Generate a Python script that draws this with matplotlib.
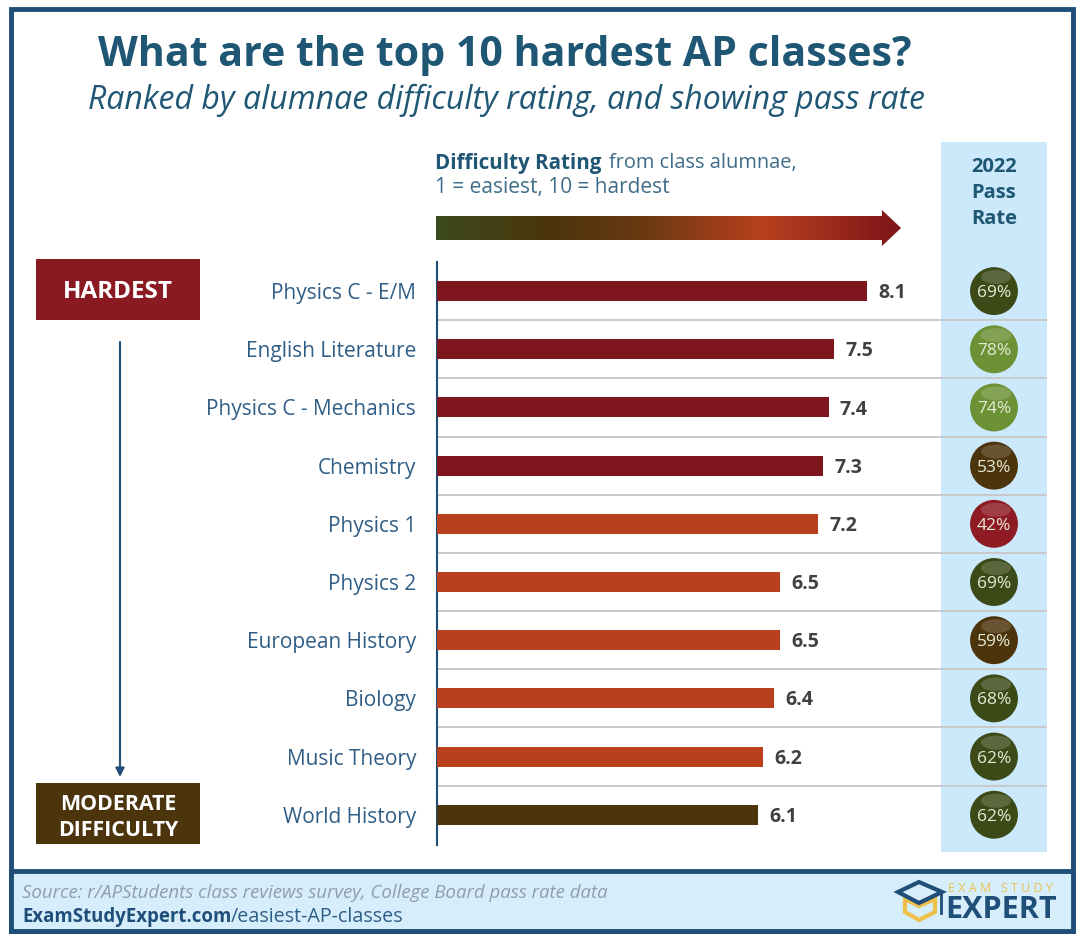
import matplotlib
matplotlib.use("Agg")
import matplotlib.pyplot as plt
from matplotlib.colors import LinearSegmentedColormap
from matplotlib.patches import Rectangle, Polygon, Ellipse
import numpy as np

plt.rcParams['font.family'] = ['Open Sans', 'DejaVu Sans']

# Chart data
classes = ["Physics C - E/M", "English Literature", "Physics C - Mechanics", "Chemistry", "Physics 1",
           "Physics 2", "European History", "Biology", "Music Theory", "World History"]
ratings = [8.1, 7.5, 7.4, 7.3, 7.2, 6.5, 6.5, 6.4, 6.2, 6.1]
pass_rates = [69, 78, 74, 53, 42, 69, 59, 68, 62, 62]

# Colours
navy = "#1f4e79"
blue_text = "#2f5d86"
teal = "#1f5673"
dark_red = "#7f161d"
orange = "#b93f1d"
brown = "#4c340d"
bar_colors = [dark_red] * 4 + [orange] * 5 + [brown]
rate_colors = ["#3c4a18", "#6d9135", "#6d9135", "#4c340d", "#8e1a24",
               "#3c4a18", "#4c340d", "#3c4a18", "#3c4a18", "#3c4a18"]

W, H = 1080, 942
fig = plt.figure(figsize=(W / 100, H / 100), dpi=100, facecolor="white")

# Background layer in pixel coordinates
bg = fig.add_axes([0, 0, 1, 1], zorder=0)
bg.set_xlim(0, W)
bg.set_ylim(H, 0)
bg.axis("off")

# Frame, footer and pass rate column
bg.add_patch(Rectangle((11, 9), 1062, 922, fc="white", ec=navy, lw=3.5))
bg.add_patch(Rectangle((11, 871), 1062, 60, fc="#d6eefb", ec=navy, lw=3.5))
bg.add_patch(Rectangle((941, 142), 106, 710, fc="#cce9fb", ec="none"))

# Title
bg.text(505, 55, "What are the top 10 hardest AP classes?", ha="center", va="center",
        fontsize=29.6, fontweight="bold", color=teal)
bg.text(506, 100, "Ranked by alumnae difficulty rating, and showing pass rate", ha="center", va="center",
        fontsize=23, style="italic", color=teal)

# Scale header
bg.text(435, 163, "Difficulty Rating", ha="left", va="center", fontsize=14.8, fontweight="bold", color=teal)
bg.text(609, 163, "from class alumnae,", ha="left", va="center", fontsize=14.4, color="#3f6c88")
bg.text(435, 188, "1 = easiest, 10 = hardest", ha="left", va="center", fontsize=15, color="#3f6c88")

# Gradient arrow
arrow_cmap = LinearSegmentedColormap.from_list(
    "difficulty", [(0, "#3c4a1c"), (0.25, "#4c340d"), (0.45, "#6b3a12"), (0.7, "#b8401e"), (1, "#7f151a")])
grad = bg.imshow(np.linspace(0, 1, 512).reshape(1, -1), extent=(436, 901, 246, 210),
                 cmap=arrow_cmap, aspect="auto", zorder=2)
arrow = Polygon([(436, 216), (882, 216), (882, 210), (901, 228), (882, 246), (882, 240), (436, 240)],
                closed=True, fc="none", ec="none", transform=bg.transData)
bg.add_patch(arrow)
grad.set_clip_path(arrow)
bg.set_xlim(0, W)
bg.set_ylim(H, 0)

# Pass rate header
for y, line in zip([167, 193, 219], ["2022", "Pass", "Rate"]):
    bg.text(994, y, line, ha="center", va="center", fontsize=14.5, fontweight="bold", color=teal)

# Left hand boxes
bg.add_patch(Rectangle((36, 259), 164, 61, fc="#8a1a22", ec="none"))
bg.text(118, 292, "HARDEST", ha="center", va="center", fontsize=17.5, fontweight="bold", color="white")
bg.add_patch(Rectangle((36, 783), 164, 61, fc=brown, ec="none"))
bg.text(118, 804, "MODERATE", ha="center", va="center", fontsize=15.4, fontweight="bold", color="white")
bg.text(118, 830, "DIFFICULTY", ha="center", va="center", fontsize=15.4, fontweight="bold", color="white")
bg.annotate("", xy=(120, 777), xytext=(120, 342),
            arrowprops=dict(arrowstyle="-|>", color=navy, lw=1.5, mutation_scale=13, shrinkA=0, shrinkB=0))

# Footer
bg.text(22, 893, "Source: r/APStudents class reviews survey, College Board pass rate data", ha="left", va="center",
        fontsize=13.4, style="italic", color="#8f9ea8")
bg.text(22, 917, "ExamStudyExpert.com", ha="left", va="center", fontsize=13.4, fontweight="bold", color=navy)
bg.text(231, 917, "/easiest-AP-classes", ha="left", va="center", fontsize=14.2, color="#2f5d86")

# Logo
bg.add_patch(Polygon([(905, 899), (905, 912), (919, 920), (935, 912), (935, 899), (919, 906)],
                     closed=True, fc="none", ec="#eec04a", lw=3))
bg.add_patch(Polygon([(898, 892), (919, 882), (942, 892), (919, 903)], closed=True, fc="#d6eefb", ec=navy, lw=3))
bg.plot([941, 941], [893, 913], color=navy, lw=2)
bg.text(1000, 889, "E X A M   S T U D Y", ha="center", va="center", fontsize=9, color="#eec04a")
bg.text(1001, 910, "EXPERT", ha="center", va="center", fontsize=22, fontweight="bold", color=navy)

# Bars: axes spans x 437-1047 px and y 262-845 px
ax = fig.add_axes([437 / W, 1 - 845 / H, 610 / W, 583 / H], zorder=1)
ax.patch.set_alpha(0)
x0 = 0.21
ax.set_xlim(x0, x0 + 610 / 54.5)
ax.set_ylim(9.52, -0.5)
y_pos = np.arange(len(classes))
ax.barh(y_pos, ratings, height=20 / 58.2, color=bar_colors, zorder=3)

for y, val in zip(y_pos, ratings):
    ax.annotate(f"{val:.1f}", (val, y), xytext=(8, -1.5), textcoords="offset points", ha="left", va="center",
                fontsize=14, fontweight="bold", color="#404040")

# Separators between rows
for y in y_pos[:-1]:
    ax.axhline(y + 0.5, color="#c9c9c9", lw=1.4, zorder=1)

for side in ["top", "right", "bottom"]:
    ax.spines[side].set_visible(False)
ax.spines["left"].set_color(navy)
ax.spines["left"].set_linewidth(1.5)
ax.set_xticks([])
ax.set_yticks(y_pos)
ax.set_yticklabels(classes, fontsize=15, color=blue_text)
ax.tick_params(axis="y", length=0, pad=15)

# Pass rate balls, placed at a fixed x through the axes transform
ball_x = (994 - 437) / 610
trans = ax.get_yaxis_transform()
ax.scatter([ball_x] * len(pass_rates), y_pos, s=1190, c=rate_colors, transform=trans, zorder=4, linewidths=0)

# Gloss on top of each ball, text above it
gloss = fig.add_axes([0, 0, 1, 1], zorder=2)
gloss.set_xlim(0, W)
gloss.set_ylim(H, 0)
gloss.axis("off")
for y, rate in zip(y_pos, pass_rates):
    yc = 291 + y * 58.2
    gloss.add_patch(Ellipse((996, yc - 14), 30, 14, fc="white", ec="none", alpha=0.16))
    gloss.text(994, yc + 2, f"{rate}%", ha="center", va="center", fontsize=12.5, color="#e6ead8")

fig.savefig("out.png", dpi=100)
